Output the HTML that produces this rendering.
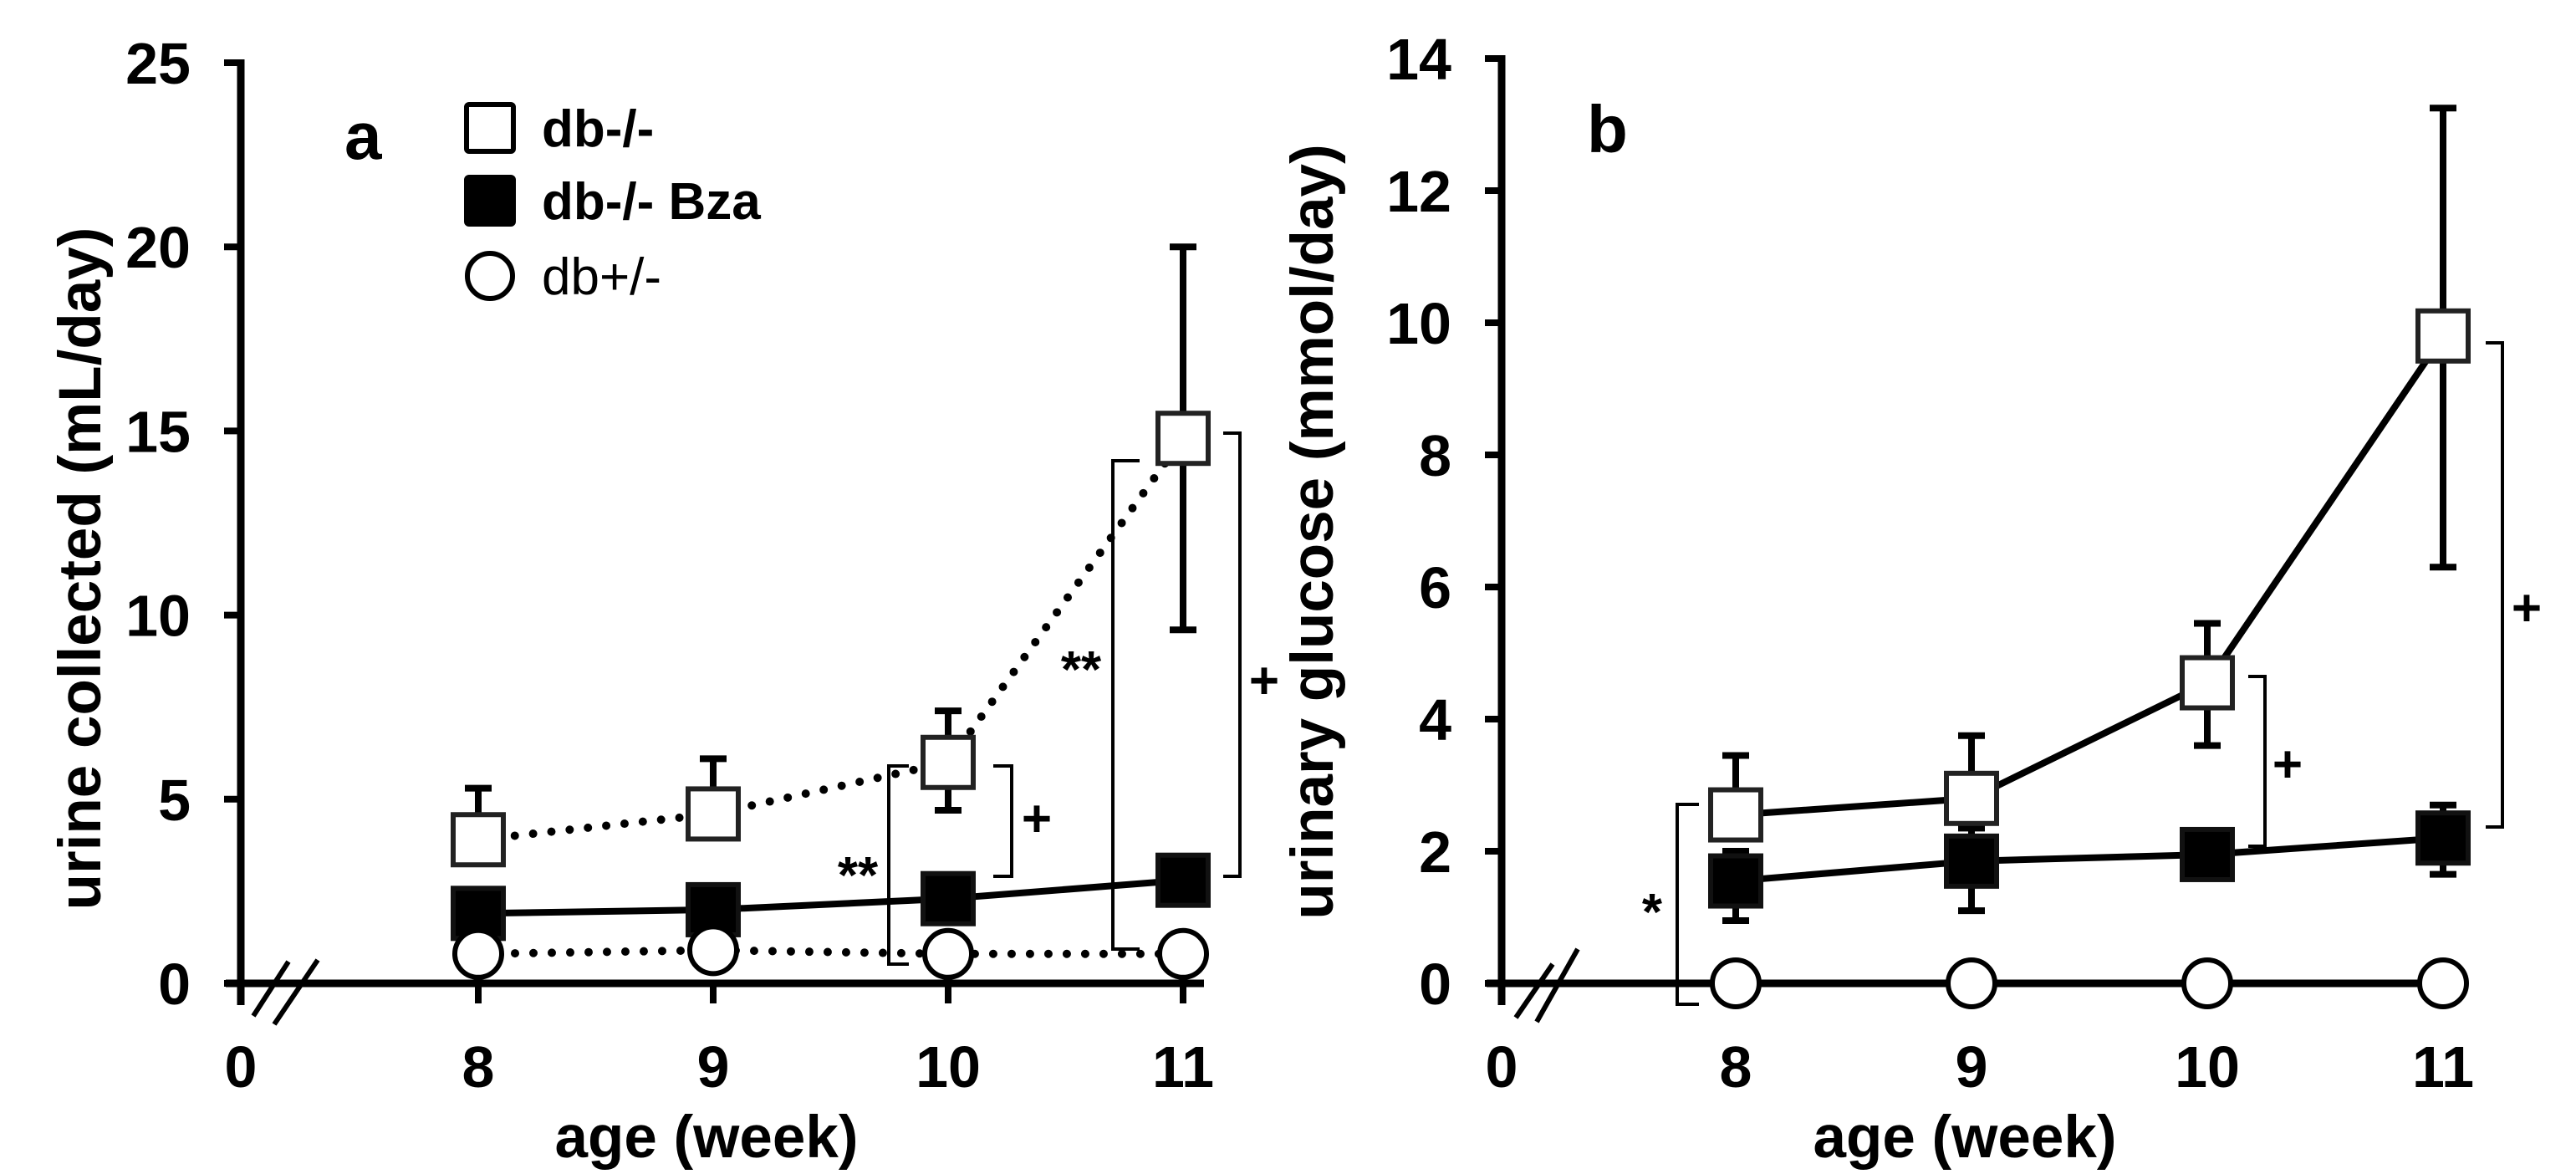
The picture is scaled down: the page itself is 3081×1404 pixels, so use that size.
<!DOCTYPE html>
<html><head><meta charset="utf-8"><style>
html,body{margin:0;padding:0;background:#fff}
svg{display:block}
text{font-family:"Liberation Sans",Arial,sans-serif;fill:#000}
</style></head><body>
<svg id="chart" width="3081" height="1404" viewBox="0 0 3081 1404" xmlns="http://www.w3.org/2000/svg">
<g id="pa"></g>
<g id="pb"></g>
</svg>
<script>
const weeks = [8, 9, 10, 11];
const aDbMean = [3.9, 4.6, 6.0, 14.8];
const aDbErrTop = [5.3, 6.1, 7.4, 20.0];
const aDbErrBot = [null, null, 4.7, 9.6];
const aBzaMean = [1.9, 2.0, 2.3, 2.8];
const aBzaErrTop = [2.5, null, null, 3.4];
const aHetMean = [0.8, 0.9, 0.8, 0.8];
const aTicks = [0, 5, 10, 15, 20, 25];
const bDbMean = [2.55, 2.8, 4.55, 9.8];
const bDbErrTop = [3.45, 3.75, 5.45, 13.25];
const bDbErrBot = [null, null, 3.6, 6.3];
const bBzaMean = [1.55, 1.85, 1.95, 2.2];
const bBzaErrTop = [2.0, 2.35, null, 2.7];
const bBzaErrBot = [0.95, 1.1, null, 1.65];
const bHetMean = [0, 0, 0, 0];
const bTicks = [0, 2, 4, 6, 8, 10, 12, 14];
const xTickLabels = ["8", "9", "10", "11"];

const NS = "http://www.w3.org/2000/svg";
function mk(parent, tag, attrs, txt) {
  const e = document.createElementNS(NS, tag);
  for (const k in attrs) e.setAttribute(k, attrs[k]);
  if (txt !== undefined) e.textContent = txt;
  parent.appendChild(e);
  return e;
}

function drawPanel(g, cfg) {
  const X = w => cfg.x8 + (w - 8) * cfg.dx;
  const Y = v => cfg.y0 - v * cfg.py;
  let e = mk(g, "line", {x1: cfg.ax, y1: Y(cfg.ymax) - 4, x2: cfg.ax, y2: Y(0) + 26, stroke: "#000", "stroke-width": 9});
   
  e = mk(g, "line", {x1: cfg.ax - 18, y1: Y(0), x2: cfg.xend, y2: Y(0), stroke: "#000", "stroke-width": 9});
   
  cfg.ticks.forEach(t => {
    let l = mk(g, "line", {x1: cfg.ax - 20, y1: Y(t), x2: cfg.ax, y2: Y(t), stroke: "#000", "stroke-width": 8});
     
    let tx = mk(g, "text", {x: cfg.ax - 60, y: Y(t) + 25, "text-anchor": "end", "font-size": 70, "font-weight": "bold"}, String(t));
     
  });
  [cfg.ax].concat(weeks.map(X)).forEach((xx, i) => {
    let l = mk(g, "line", {x1: xx, y1: Y(0), x2: xx, y2: Y(0) + 24, stroke: "#000", "stroke-width": 8});
     
    let tx = mk(g, "text", {x: xx, y: 1300, "text-anchor": "middle", "font-size": 70, "font-weight": "bold"}, i === 0 ? "0" : xTickLabels[i - 1]);
     
  });
  let br = mk(g, "path", {d: cfg.brk, stroke: "#000", "stroke-width": 6, fill: "none"});
   
  let xt = mk(g, "text", {x: cfg.xtitle, y: 1384, "text-anchor": "middle", "font-size": 71, "font-weight": "bold"}, "age (week)");
   
  let yt = mk(g, "text", {x: 0, y: 0, transform: `translate(${cfg.ytx},${cfg.yty}) rotate(-90)`, "text-anchor": "middle", "font-size": cfg.ytSize, "font-weight": "bold"}, cfg.ytitle);
   
  let lt = mk(g, "text", {x: cfg.letter[0], y: cfg.letter[1], "font-size": 80, "font-weight": "bold"}, cfg.letter[2]);
   

  cfg.brackets.forEach(b => {
    const d = b.dir;
    let p = mk(g, "path", {d: `M${b.x + d * b.w},${b.t} H${b.x} V${b.b} H${b.x + d * b.w}`, stroke: "#000", "stroke-width": 4, fill: "none"});
     
    let s = mk(g, "text", {x: b.lx, y: b.ly, "text-anchor": "middle", "font-size": 62, "font-weight": "bold"}, b.label);
     
  });

  cfg.series.forEach(s => {
    const pts = s.mean.map((v, i) => X(weeks[i]) + "," + Y(v)).join(" ");
    let attrs = {points: pts, fill: "none", stroke: "#000", "stroke-width": 8};
    if (s.dotted) { attrs["stroke-dasharray"] = "0 22"; attrs["stroke-linecap"] = "round"; attrs["stroke-width"] = 10; }
    let pl = mk(g, "polyline", attrs);
     
    s.mean.forEach((v, i) => {
      const xx = X(weeks[i]);
      [s.top, s.bot].forEach(arr => {
        if (!arr || arr[i] === null) return;
        let eb = mk(g, "path", {d: `M${xx},${Y(v)} V${Y(arr[i])} M${xx - 16},${Y(arr[i])} H${xx + 16}`, stroke: "#000", "stroke-width": 8, fill: "none"});
         
      });
    });
  });
  cfg.series.forEach(s => {
    s.mean.forEach((v, i) => {
      const xx = X(weeks[i]), yy = Y(v);
      let m;
      if (s.shape === "circle") m = mk(g, "circle", {cx: xx, cy: yy, r: 28, fill: "#fff", stroke: "#000", "stroke-width": 6});
      else m = mk(g, "rect", {x: xx - 30, y: yy - 30, width: 60, height: 60, fill: s.shape === "open" ? "#fff" : "#000", stroke: s.shape === "open" ? "#222" : "#111", "stroke-width": 6});
       
    });
  });
}

const pa = document.getElementById("pa");
const legendNames = ["db-/-", "db-/- Bza", "db+/-"];
[[153, "open", "bold"], [240, "filled", "bold"], [330, "circle", "normal"]].forEach((r, i) => {
  let m;
  if (r[1] === "circle") m = mk(pa, "circle", {cx: 586, cy: r[0], r: 27, fill: "#fff", stroke: "#000", "stroke-width": 6});
  else m = mk(pa, "rect", {x: 558, y: r[0] - 28, width: 56, height: 56, rx: 3, fill: r[1] === "open" ? "#fff" : "#000", stroke: "#000", "stroke-width": 6});
   
  let t = mk(pa, "text", {x: 648, y: r[0] + 22, "font-size": 62, "font-weight": r[2]}, legendNames[i]);
   
});

drawPanel(pa, {
  ax: 288, x8: 572, dx: 281, y0: 1176, py: 44.04, ymax: 25, ticks: aTicks, xend: 1440,
  brk: "M303,1215 L345,1150 M328,1225 L380,1148",
  xtitle: 845, ytx: 120, yty: 680, ytSize: 71, ytitle: "urine collected (mL/day)",
  letter: [412, 190, "a"],
  brackets: [
    {x: 1063, t: 916, b: 1153, w: 24, dir: 1, label: "**", lx: 1026, ly: 1068},
    {x: 1210, t: 916, b: 1048, w: 22, dir: -1, label: "+", lx: 1240, ly: 1000},
    {x: 1331, t: 551, b: 1135, w: 32, dir: 1, label: "**", lx: 1293, ly: 822},
    {x: 1483, t: 518, b: 1048, w: 20, dir: -1, label: "+", lx: 1512, ly: 835}
  ],
  series: [
    {name: "db-ko", mean: aDbMean, top: aDbErrTop, bot: aDbErrBot, shape: "open", dotted: true},
    {name: "db-ko-bza", mean: aBzaMean, top: aBzaErrTop, bot: null, shape: "filled", dotted: false},
    {name: "db-het", mean: aHetMean, top: null, bot: null, shape: "circle", dotted: true}
  ]
});

drawPanel(document.getElementById("pb"), {
  ax: 1796, x8: 2076, dx: 282, y0: 1176, py: 79.0, ymax: 14, ticks: bTicks, xend: 2950,
  brk: "M1813,1217 L1857,1153 M1838,1222 L1887,1135",
  xtitle: 2350, ytx: 1594, yty: 636, ytSize: 71, ytitle: "urinary glucose (mmol/day)",
  letter: [1898, 182, "b"],
  brackets: [
    {x: 2006, t: 962, b: 1201, w: 26, dir: 1, label: "*", lx: 1976, ly: 1112},
    {x: 2709, t: 809, b: 1012, w: 20, dir: -1, label: "+", lx: 2736, ly: 935},
    {x: 2993, t: 410, b: 989, w: 20, dir: -1, label: "+", lx: 3022, ly: 748}
  ],
  series: [
    {name: "db-ko", mean: bDbMean, top: bDbErrTop, bot: bDbErrBot, shape: "open", dotted: false},
    {name: "db-ko-bza", mean: bBzaMean, top: bBzaErrTop, bot: bBzaErrBot, shape: "filled", dotted: false},
    {name: "db-het", mean: bHetMean, top: null, bot: null, shape: "circle", dotted: false}
  ]
});
</script>
</body></html>
